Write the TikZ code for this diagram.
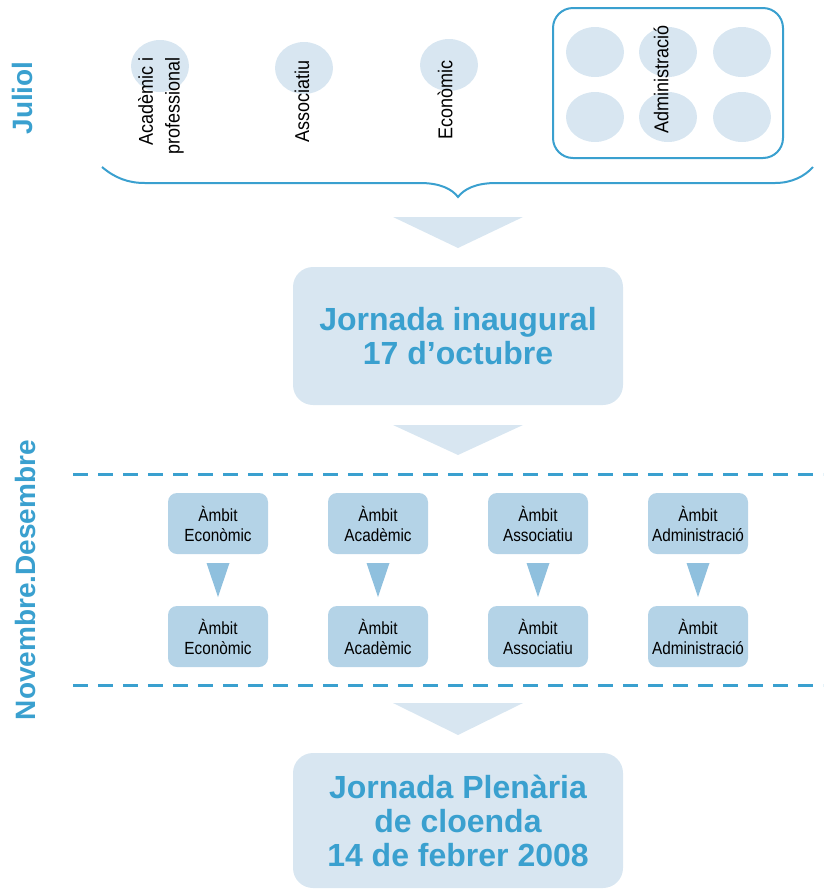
\documentclass[tikz,border=0pt]{standalone}
\usepackage{fontspec}
\setmainfont{Liberation Sans}
\newfontfamily\narrowfont[FakeStretch=0.9]{Liberation Sans}
\newfontfamily\ambitfont[FakeStretch=0.87]{Liberation Sans}

\begin{document}
\begin{tikzpicture}[x=0.75pt,y=0.75pt,yscale=-1,xscale=1]
\useasboundingbox (0,0) rectangle (834,890);

\tikzset{
  blueline/.style={draw={rgb, 255:red, 58; green, 160; blue, 207 }},
  lightfill/.style={fill={rgb, 255:red, 216; green, 230; blue, 241 }},
  bigbox/.style={lightfill, rounded corners=15pt, minimum width=247.5pt, inner sep=0pt, align=center, text={rgb, 255:red, 58; green, 160; blue, 207 }, font=\fontsize{24}{25.5}\selectfont\bfseries},
  ambitbox/.style={fill={rgb, 255:red, 180; green, 211; blue, 231 }, rounded corners=6.75pt, minimum width=75pt, minimum height=45.75pt, inner sep=0pt, align=center, font=\ambitfont\fontsize{13.2}{15}\selectfont},
  toplabel/.style={rotate=90, inner sep=0.75pt, align=right, font=\narrowfont\fontsize{15}{20}\selectfont},
  monthlabel/.style={rotate=90, inner sep=0.75pt, text={rgb, 255:red, 58; green, 160; blue, 207 }, font=\fontsize{21}{24}\selectfont\bfseries}
}

%Shape: Ellipses (top)
\fill [lightfill] (160,66) ellipse (29 and 26);
\fill [lightfill] (304,68) ellipse (29 and 26);
\fill [lightfill] (449,65) ellipse (29 and 26);
%Shape: Rounded Rect [Administracio]
\draw [blueline, line width=1.5pt, rounded corners=15pt] (553,8) rectangle (783,158);
\fill [lightfill] (595,52) ellipse (29 and 25);
\fill [lightfill] (668,52) ellipse (29 and 25);
\fill [lightfill] (742,52) ellipse (29 and 25);
\fill [lightfill] (595,117) ellipse (29 and 25);
\fill [lightfill] (668,117) ellipse (29 and 25);
\fill [lightfill] (742,117) ellipse (29 and 25);

%Shape: Brace
\draw [blueline, line width=1.5pt] (102,167) .. controls (115,178) and (128,183) .. (145,183) -- (420,183) .. controls (440,183) and (452,189) .. (458,197) .. controls (464,189) and (476,183) .. (496,183) -- (775,183) .. controls (792,183) and (805,176) .. (813,167) ;

%Shape: Triangles
\fill [lightfill] (393,217) -- (523,217) -- (458,248) -- cycle ;
\fill [lightfill] (393,425) -- (523,425) -- (458,455) -- cycle ;
\fill [lightfill] (393,703) -- (523,703) -- (458,735) -- cycle ;

%Straight Lines [dashed]
\draw [blueline, line width=2.25pt, dash pattern={on 11.25pt off 7.5pt}] (73,474) -- (823,474) ;
\draw [blueline, line width=2.25pt, dash pattern={on 11.25pt off 7.5pt}] (73,685) -- (823,685) ;

%Shape: small Triangles
\fill [color={rgb, 255:red, 143; green, 192; blue, 222 }] (206.5,563) -- (229.5,563) -- (218,597) -- cycle ;
\fill [color={rgb, 255:red, 143; green, 192; blue, 222 }] (366.5,563) -- (389.5,563) -- (378,597) -- cycle ;
\fill [color={rgb, 255:red, 143; green, 192; blue, 222 }] (526.5,563) -- (549.5,563) -- (538,597) -- cycle ;
\fill [color={rgb, 255:red, 143; green, 192; blue, 222 }] (686.5,563) -- (709.5,563) -- (698,597) -- cycle ;

% Text Node
\node (juliol) [monthlabel] at (22,98) {Juliol};
% Text Node
\node (novdes) [monthlabel] at (25,580) {Novembre.Desembre};
% Text Node
\node (academic) [toplabel] at (161,106) {Acadèmic i\\professional};
% Text Node
\node (associatiu) [toplabel] at (302,101) {Associatiu};
% Text Node
\node (economic) [toplabel] at (445,100) {Econòmic};
% Text Node
\node (administracio) [toplabel] at (661,79) {Administració};

% Text Node
\node (inaugural) [bigbox, minimum height=103.5pt] at (458,336) {Jornada inaugural\\17 d’octubre};
% Text Node
\node (cloenda) [bigbox, minimum height=101.25pt] at (458,820.5) {Jornada Plenària\\de cloenda\\14 de febrer 2008};

% Text Node
\node (eco1) [ambitbox] at (218,523.5) {Àmbit\\Econòmic};
\node (aca1) [ambitbox] at (378,523.5) {Àmbit\\Acadèmic};
\node (ass1) [ambitbox] at (538,523.5) {Àmbit\\Associatiu};
\node (adm1) [ambitbox] at (698,523.5) {Àmbit\\Administració};
% Text Node
\node (eco2) [ambitbox] at (218,636.5) {Àmbit\\Econòmic};
\node (aca2) [ambitbox] at (378,636.5) {Àmbit\\Acadèmic};
\node (ass2) [ambitbox] at (538,636.5) {Àmbit\\Associatiu};
\node (adm2) [ambitbox] at (698,636.5) {Àmbit\\Administració};
\end{tikzpicture}
\end{document}
